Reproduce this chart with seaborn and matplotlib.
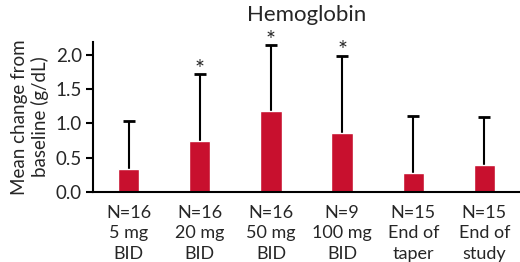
import matplotlib
matplotlib.use("Agg")
import matplotlib.pyplot as plt
import seaborn as sns
import numpy as np
import pandas as pd

# data
groups = ["N=16\n5 mg\nBID", "N=16\n20 mg\nBID", "N=16\n50 mg\nBID",
          "N=9\n100 mg\nBID", "N=15\nEnd of\ntaper", "N=15\nEnd of\nstudy"]
mean_change = [0.34, 0.74, 1.18, 0.86, 0.28, 0.39]
sd_upper = [0.70, 0.98, 0.96, 1.13, 0.83, 0.70]
significant = [False, True, True, True, False, False]

bar_color = "#C8102E"

sns.set_style("ticks")
plt.rcParams["font.family"] = ["Lato", "DejaVu Sans"]

df = pd.DataFrame({"group": groups, "mean": mean_change})

fig = plt.figure(figsize=(5.2, 2.62), dpi=100)
ax = fig.add_axes([0.179, 0.267, 0.821, 0.573])

sns.barplot(data=df, x="group", y="mean", color=bar_color, saturation=1,
            width=0.3, errorbar=None, ax=ax, zorder=2)

xpos = np.arange(len(groups))
eb = ax.errorbar(xpos, mean_change, yerr=[np.zeros(len(groups)), sd_upper],
                 fmt="none", ecolor="black", elinewidth=1.5, capsize=4,
                 capthick=2, zorder=1)
eb[1][0].set_visible(False)

for i, (m, s, sig) in enumerate(zip(mean_change, sd_upper, significant)):
    if sig:
        ax.text(i, m + s - 0.08, "*", ha="center", va="bottom", fontsize=17,
                clip_on=False)

ax.set_xlim(-0.5, len(groups) - 0.5)
ax.set_ylim(0, 2.19)
ax.set_yticks([0.0, 0.5, 1.0, 1.5, 2.0])
ax.set_yticklabels(["0.0", "0.5", "1.0", "1.5", "2.0"])
ax.set_xlabel("")
ax.set_ylabel("Mean change from\nbaseline (g/dL)", fontsize=13.5,
              linespacing=1.15, labelpad=5)
ax.set_title("Hemoglobin", fontsize=16, pad=15)

ax.tick_params(axis="y", labelsize=13.5, width=1.5, length=5, color="black",
               pad=3)
ax.tick_params(axis="x", length=0, labelsize=13, pad=9)
for lbl in ax.get_xticklabels():
    lbl.set_linespacing(1.35)

sns.despine(ax=ax)
ax.spines["left"].set_linewidth(1.5)
ax.spines["bottom"].set_linewidth(1.5)
ax.spines["left"].set_color("black")
ax.spines["bottom"].set_color("black")

fig.savefig("out.png", dpi=100)
plt.close(fig)
